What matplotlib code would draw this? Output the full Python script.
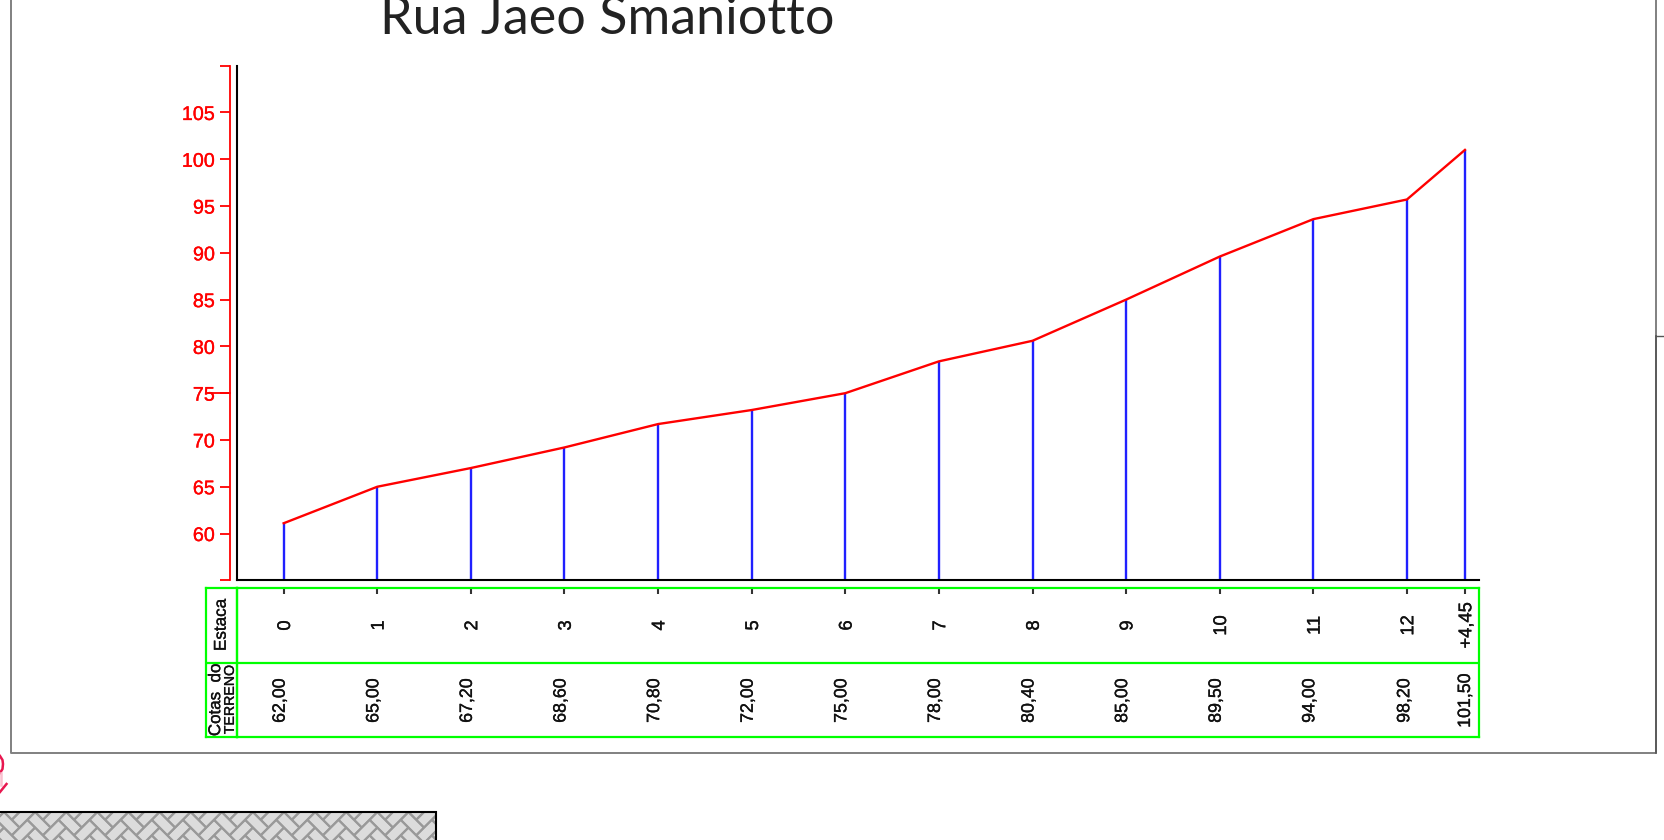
import matplotlib
matplotlib.use("Agg")
import matplotlib.pyplot as plt
import matplotlib.patheffects as pe
from matplotlib.patches import Rectangle
from matplotlib.collections import LineCollection

W, H = 1665, 840
TITLE = "Rua Jaeo Smaniotto"
station_pos = [0, 1, 2, 3, 4, 5, 6, 7, 8, 9, 10, 11, 12, 12.62]
station_labels = ["0", "1", "2", "3", "4", "5", "6", "7", "8", "9", "10", "11", "12", "+4,45"]
terrain_elev = [61.1, 65.0, 67.0, 69.2, 71.7, 73.2, 75.0, 78.4, 80.6, 85.0, 89.6, 93.6, 95.7, 101.0]
cota_labels = ["62,00", "65,00", "67,20", "68,60", "70,80", "72,00", "75,00",
               "78,00", "80,40", "85,00", "89,50", "94,00", "98,20", "101,50"]
y_ticks = [60, 65, 70, 75, 80, 85, 90, 95, 100, 105]

RED, BLUE, GREEN = "#ff0000", "#2020ff", "#00ff00"
INK = "#111111"
plt.rcParams["font.family"] = ["Liberation Sans", "DejaVu Sans"]

fig = plt.figure(figsize=(W / 100, H / 100), dpi=100, facecolor="white")

def box(x0, y0, x1, y1, **kw):
    return fig.add_axes([x0 / W, 1 - y1 / H, (x1 - x0) / W, (y1 - y0) / H], **kw)

def heavy(color, w=0.25):
    return [pe.withStroke(linewidth=w, foreground=color)]

# page overlay in pixel coordinates
pg = box(0, 0, W, H, zorder=0)
pg.set_xlim(0, W); pg.set_ylim(H, 0); pg.axis("off")
pg.plot([11.5, 11.5, 1656, 1656], [0, 753, 753, 0], color="#808080", lw=1.4)
pg.plot([1656, 1656], [336, 753], color="#555555", lw=1.2)
pg.plot([1656, 1665], [336, 336], color="#555555", lw=1.0)
pg.text(607, 33.5, TITLE, family=["Lato", "DejaVu Sans"], fontweight="normal",
        fontsize=37.5, ha="center", va="baseline", color="#222222")

# hatched block with a herringbone pattern
rect = Rectangle((-5, 812), 441.5, 40, facecolor="#dcdcdc", edgecolor="none", zorder=0.5)
pg.add_patch(rect)
s = 11 / 2 ** 0.5
x_org, y_org = 4, 812

def brick(u0, v0, du, dv):
    corners = [(u0, v0), (u0 + du, v0), (u0 + du, v0 + dv), (u0, v0 + dv), (u0, v0)]
    pts = [(x_org + (u - v) * s, y_org + (u + v) * s) for u, v in corners]
    return [[pts[k], pts[k + 1]] for k in range(4)]

segs = []
for m in range(-30, 50):
    for n in range(-30, 50):
        du, dv = m + 2 * n, m - 2 * n
        segs += brick(du, dv, 2, 1)
        segs += brick(du + 2, dv - 1, 1, 2)
segs = [q for q in segs if -40 < q[0][0] < 480 and 780 < q[0][1] < 860]
lc = LineCollection(segs, colors="#999999", lw=1.5, zorder=0.9)
pg.add_collection(lc)
lc.set_clip_path(rect)
pg.add_patch(Rectangle((-5, 812), 441.5, 40, facecolor="none", edgecolor="black", lw=1.5, zorder=1.2))
pg.set_xlim(0, W); pg.set_ylim(H, 0)

# red mark at the left edge
pg.plot([0, 2.5, 3, 2.5, 0], [756, 760, 764, 769, 773], color="#e8174f", lw=1.8)
pg.plot([0.8, 0.8], [773, 785], color="#f9c0cf", lw=1.8)
pg.plot([0, 6.5], [792, 784], color="#e8174f", lw=1.8)

# profile
ax = box(236.7, 65.7, 1479, 580.3, zorder=2, facecolor="none")
ax.set_xlim(-0.502, 12.77)
ax.set_ylim(55, 110)
ax.vlines(station_pos, 55, terrain_elev, colors=BLUE, lw=1.7)
ax.plot(station_pos, terrain_elev, color=RED, lw=1.7, solid_joinstyle="miter")
for sp in ("top", "right"):
    ax.spines[sp].set_visible(False)
for sp in ("left", "bottom"):
    ax.spines[sp].set_color("black")
    ax.spines[sp].set_linewidth(1.5)
ax.set_xticks([])
ax.set_yticks([])

# red y scale offset from the black axis
sc = box(230, 65.7, 231, 580.3, zorder=2, facecolor="none")
sc.set_ylim(55, 110)
sc.set_xticks([])
for sp in ("top", "right", "bottom"):
    sc.spines[sp].set_visible(False)
sc.spines["left"].set_color(RED)
sc.spines["left"].set_linewidth(1.3)
sc.set_yticks([55] + y_ticks + [110], [""] + [str(t) for t in y_ticks] + [""],
              color=RED, fontsize=14.2)
sc.tick_params(axis="y", colors=RED, length=7.4, width=1.3, pad=3.5)
for t in sc.get_yticklabels():
    t.set_path_effects(heavy(RED))
sc.plot([-22, 0], [75, 75], transform=sc.get_yaxis_transform(), color=RED, lw=1.3, clip_on=False)

# table
tb = box(236.7, 588.3, 1479, 737, zorder=3, facecolor="none")
tb.set_xlim(-0.502, 12.77)
tb.set_ylim(2, 0)
tb.set_yticks([])
tb.set_xticks(station_pos, [""] * len(station_pos))
tb.xaxis.tick_top()
tb.tick_params(axis="x", direction="in", length=4.2, width=1.5, color="#333333")
for sp in tb.spines.values():
    sp.set_color(GREEN); sp.set_linewidth(1.6)
tb.axhline(1, color=GREEN, lw=1.6)
px = 13.272 / (1479 - 236.7)  # data units per pixel
for i, (x, a1, a2) in enumerate(zip(station_pos, station_labels, cota_labels)):
    tb.text(x + 1.8 * px, 0.5, a1, rotation=90, ha="center", va="center", fontsize=13.2,
            color=INK, path_effects=heavy(INK))
    off = -3.5 if i < 12 else (-2.2 if i == 12 else 0.5)
    tb.text(x + off * px, 1.51, a2, rotation=90, ha="center", va="center", fontsize=12.8,
            color=INK, path_effects=heavy(INK))

hd = box(205.7, 588.3, 236.7, 737, zorder=3, facecolor="none")
hd.set_xlim(0, 1); hd.set_ylim(2, 0)
hd.set_xticks([]); hd.set_yticks([])
for sp in hd.spines.values():
    sp.set_color(GREEN); sp.set_linewidth(1.6)
hd.axhline(1, color=GREEN, lw=1.6)
hd.text(0.5, 0.49, "Estaca", rotation=90, ha="center", va="center", fontsize=12.3,
        color=INK, path_effects=heavy(INK))
hd.text(0.32, 1.5, "Cotas  do", rotation=90, ha="center", va="center", fontsize=12.2,
        color=INK, path_effects=heavy(INK))
hd.text(0.78, 1.5, "TERRENO", rotation=90, ha="center", va="center", fontsize=10.2,
        color=INK, path_effects=heavy(INK))

fig.savefig("out.png", dpi=100)
